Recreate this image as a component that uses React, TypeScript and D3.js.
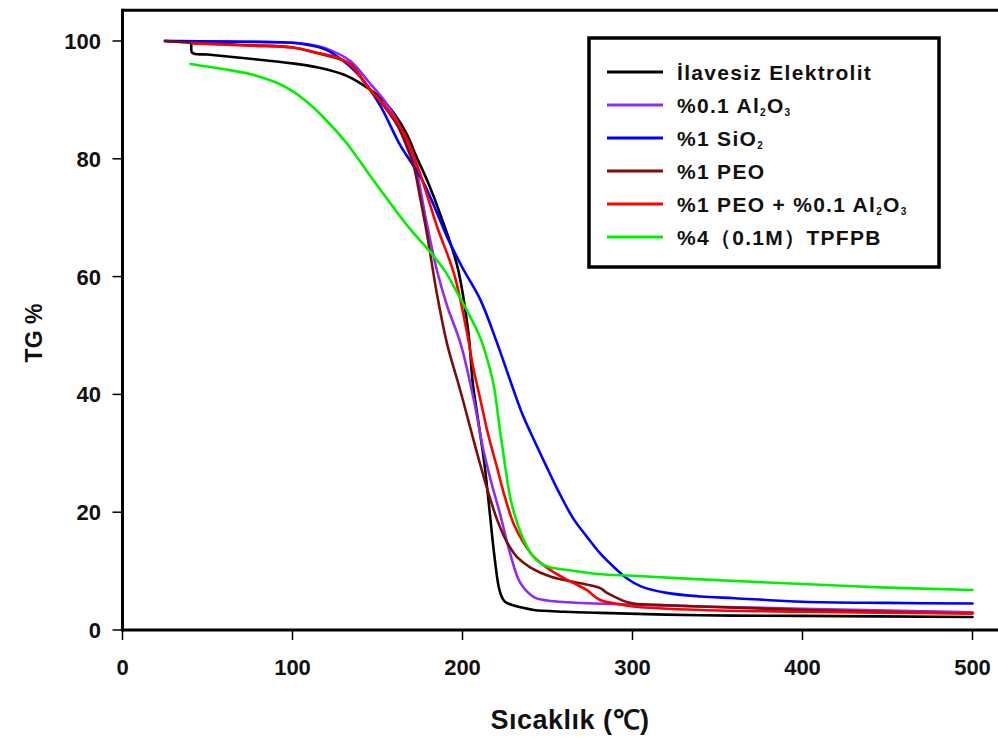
import React from "react";
import * as d3 from "d3";

const xTicks = [0, 100, 200, 300, 400, 500];
const yTicks = [0, 20, 40, 60, 80, 100];

const blackT = [25, 35, 40, 41, 50, 75, 100, 115, 130, 140, 152, 160, 167, 173, 180, 187, 197, 203.5, 206, 209, 213, 216, 219, 222, 225, 235, 242, 260, 281, 340, 400, 500];
const blackW = [100, 99.9, 99.8, 98.0, 97.7, 97.0, 96.2, 95.5, 94.3, 92.8, 90.3, 87.6, 84.3, 80.3, 75.8, 70.5, 61.7, 50.4, 42, 36, 28, 20, 12, 6.5, 4.8, 3.8, 3.4, 3.1, 2.9, 2.5, 2.4, 2.2];

const purpleT = [25, 60, 100, 110, 120, 134, 145, 155, 165, 172, 179, 185, 191, 199, 206.7, 212, 217, 222, 228, 234, 242, 250, 262, 300, 340, 400, 500];
const purpleW = [100, 99.9, 99.7, 99.4, 98.7, 96.6, 93, 89.5, 84.5, 79, 69, 61, 55, 48.5, 39, 31, 25, 19.8, 13, 8, 5.6, 5.0, 4.7, 4.3, 4.0, 3.6, 3.0];

const blueT = [25, 60, 100, 110, 120, 130, 137, 142, 152, 163, 170, 177, 184, 191, 200, 210.6, 220, 228, 235, 242, 249, 256, 265, 273, 281, 289, 297, 305, 320, 340, 360, 400, 450, 500];
const blueW = [100, 99.9, 99.7, 99.3, 98.5, 96.6, 94.8, 93.2, 88.8, 82.5, 79.3, 76, 71.5, 66.7, 61.5, 56, 49, 42.4, 36.8, 32.3, 28, 23.8, 19, 15.9, 13, 10.7, 8.7, 7.4, 6.3, 5.7, 5.4, 4.8, 4.6, 4.5];

const darkRedT = [25, 40, 75, 100, 115, 134, 144, 155, 162, 168, 171.4, 175, 179, 185, 191, 197, 200, 208.6, 215, 220.4, 226, 232, 240, 252, 265, 275, 281, 285, 289, 295, 300.6, 320, 340, 400, 500];
const darkRedW = [100, 99.7, 99.3, 98.9, 97.9, 96.1, 92.3, 88.5, 85.5, 81.5, 78.7, 73.5, 67.4, 57, 48.5, 42.4, 39.3, 30, 23.5, 18.7, 15, 12.4, 10.6, 9.05, 8.2, 7.6, 7.1, 6.3, 5.7, 4.9, 4.5, 4.2, 4.0, 3.4, 2.8];

const redT = [41, 75, 100, 114.5, 125, 134, 144, 152, 161.6, 167.5, 172, 177, 185, 195, 202.7, 206, 210.6, 215, 220.4, 225, 230, 236, 242, 250, 261.6, 268, 273, 281, 290, 300.6, 340, 400, 500];
const redW = [99.6, 99.2, 98.9, 98, 97.3, 96.0, 92.3, 89.7, 86.2, 83.3, 80, 75.8, 68.5, 60.5, 50.4, 45, 39, 33.3, 27.5, 22.5, 18.1, 14.8, 12.4, 10.5, 8.5, 7.6, 6.8, 5.1, 4.5, 4.0, 3.4, 3.1, 2.8];

const greenT = [40, 60, 75, 90, 100, 110, 120, 132, 146, 160, 170, 181, 190, 197, 204, 210.6, 215, 218.4, 222, 225, 228, 232, 236, 241, 246, 252, 262, 280, 300, 340, 400, 450, 500];
const greenW = [96.1, 95.2, 94.4, 93.0, 91.5, 89.3, 86.5, 82.6, 77, 71.5, 67.8, 64.2, 60.8, 57.2, 53.5, 49.5, 45.5, 41.5, 34, 28, 22.6, 18.3, 15.3, 12.7, 11.3, 10.6, 10.2, 9.5, 9.2, 8.6, 7.8, 7.2, 6.8];

const seriesNames = ["İlavesiz Elektrolit", "%0.1 Al2O3", "%1 SiO2", "%1 PEO", "%1 PEO + %0.1 Al2O3", "%4（0.1M）TPFPB"];
const seriesColors = ["#000000", "#8c2cf5", "#0000ff", "#7b0d0d", "#ff0000", "#00f000"];
const seriesT = [blackT, purpleT, blueT, darkRedT, redT, greenT];
const seriesW = [blackW, purpleW, blueW, darkRedW, redW, greenW];

const W = 998;
const H = 738;
const font = "'Liberation Sans', Arial, Helvetica, sans-serif";

function LegendLabel({ i }: { i: number }) {
  const sub = { fontSize: 10, baselineShift: "-3px" } as any;
  if (i === 0) return <>İlavesiz Elektrolit</>;
  if (i === 1)
    return (
      <>
        %0.1 Al<tspan style={sub}>2</tspan>O<tspan style={sub}>3</tspan>
      </>
    );
  if (i === 2)
    return (
      <>
        %1 SiO<tspan style={sub}>2</tspan>
      </>
    );
  if (i === 3) return <>%1 PEO</>;
  if (i === 4)
    return (
      <>
        %1 PEO + %0.1 Al<tspan style={sub}>2</tspan>O<tspan style={sub}>3</tspan>
      </>
    );
  return <>%4（0.1M）TPFPB</>;
}

export default function App() {
  const x = d3.scaleLinear().domain([0, 500]).range([122.5, 972.5]);
  const y = d3.scaleLinear().domain([0, 100]).range([630, 41]);
  const xRight = x(522);
  const yTop = y(105.2);

  const line = d3
    .line<[number, number]>()
    .x((d) => x(d[0]))
    .y((d) => y(d[1]))
    .curve(d3.curveCatmullRom.alpha(0.5));

  const legendX = 589;
  const legendY = 38;
  const rowY = (i: number) => 72 + i * 33;

  return (
    <svg
      width={W}
      height={H}
      style={{ position: "absolute", left: 0, top: 0, background: "#fff" }}
      fontFamily={font}
    >
      <rect x={0} y={0} width={W} height={H} fill="#fff" />
      {seriesT.map((ts, i) => (
        <path
          key={i}
          d={line(ts.map((t, j) => [t, seriesW[i][j]] as [number, number])) || ""}
          fill="none"
          stroke={seriesColors[i]}
          strokeWidth={2.6}
          strokeLinejoin="round"
          strokeLinecap="round"
        />
      ))}
      <line x1={x(0)} x2={xRight} y1={yTop} y2={yTop} stroke="#000" strokeWidth={3} />
      <line x1={x(0)} x2={xRight} y1={y(0)} y2={y(0)} stroke="#000" strokeWidth={3} />
      <line x1={x(0)} x2={x(0)} y1={yTop - 1.5} y2={y(0) + 1.5} stroke="#000" strokeWidth={3} />
      {xTicks.map((t) => (
        <g key={t}>
          <line x1={x(t)} x2={x(t)} y1={y(0)} y2={y(0) + 10} stroke="#000" strokeWidth={1.5} />
          <text x={x(t)} y={675} textAnchor="middle" fontSize={22} fontWeight="bold" fill="#111">
            {t}
          </text>
        </g>
      ))}
      {yTicks.map((t) => (
        <g key={t}>
          <line x1={x(0) - 10} x2={x(0)} y1={y(t)} y2={y(t)} stroke="#000" strokeWidth={1.5} />
          <text x={101} y={y(t) + 8} textAnchor="end" fontSize={22} fontWeight="bold" fill="#111">
            {t}
          </text>
        </g>
      ))}
      <text x={570} y={729} textAnchor="middle" fontSize={27} fontWeight="bold" fill="#111" letterSpacing={0.5}>
        Sıcaklık (℃)
      </text>
      <text
        transform={`translate(42, 333) rotate(-90)`}
        textAnchor="middle"
        fontSize={23}
        fontWeight="bold"
        fill="#111"
      >
        TG %
      </text>
      <rect x={legendX} y={legendY} width={350} height={229} fill="#fff" stroke="#000" strokeWidth={3.5} />
      {seriesNames.map((n, i) => (
        <g key={n}>
          <line x1={607} x2={663} y1={rowY(i)} y2={rowY(i)} stroke={seriesColors[i]} strokeWidth={3} />
          <text x={677} y={rowY(i) + 8} fontSize={21} fontWeight="bold" fill="#111" letterSpacing={1.3}>
            <LegendLabel i={i} />
          </text>
        </g>
      ))}
    </svg>
  );
}
